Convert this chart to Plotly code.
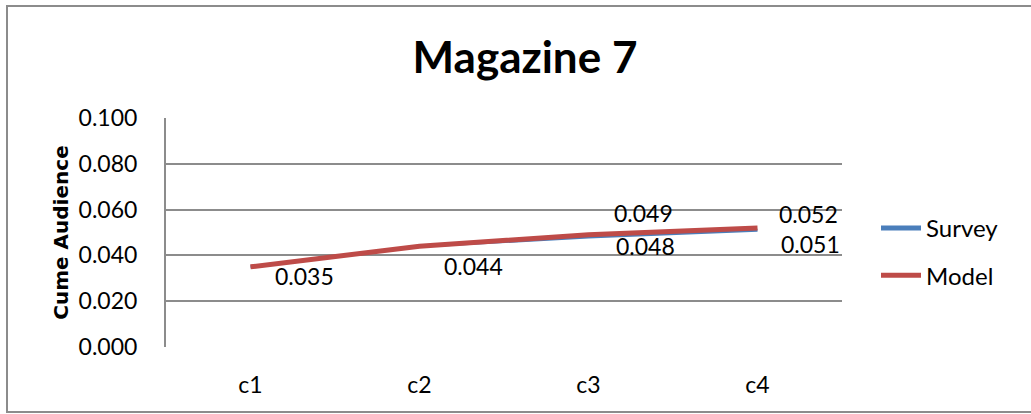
import plotly.graph_objects as go

# Cumulative audience by contact wave
categories = ["c1", "c2", "c3", "c4"]
survey = [0.035, 0.044, 0.048, 0.051]
model = [0.035, 0.044, 0.049, 0.052]
y_ticks = [0.000, 0.020, 0.040, 0.060, 0.080, 0.100]

BLUE = "#4A7EBB"
RED = "#BE4B48"
GRID = "#8C8C8C"
FONT = "Lato, Carlito, Calibri, sans-serif"

# Plot-area geometry in pixels
W, H = 1031, 414
L, R, T, B = 166, 189, 118, 67

fig = go.Figure()
fig.add_trace(go.Scatter(x=categories, y=survey, name="Survey", mode="lines",
                         showlegend=False, line=dict(color=BLUE, width=3)))
fig.add_trace(go.Scatter(x=categories, y=model, name="Model", mode="lines",
                         showlegend=False, line=dict(color=RED, width=5)))

# Legend keys drawn with a uniform thick stroke
for name, color, grp in [("Survey", BLUE, "s"), ("Model", RED, "m")]:
    fig.add_trace(go.Scatter(x=[None], y=[None], name=name, mode="lines",
                             legendgroup=grp, line=dict(color=color, width=5)))

# Value labels: survey below-right, model above-right where the two differ
label_specs = []
survey_shift = [(54, -9), (54, -20), (57, -9), (53, -14)]
for i, v in enumerate(survey):
    label_specs.append((categories[i], v, survey_shift[i]))
model_shift = {2: (55, 22), 3: (51, 14)}
for i, v in enumerate(model):
    if i in model_shift:
        label_specs.append((categories[i], v, model_shift[i]))

for x, v, (dx, dy) in label_specs:
    fig.add_annotation(x=x, y=v, text=f"{v:.3f}", showarrow=False,
                       xshift=dx, yshift=dy,
                       font=dict(family=FONT, size=23, color="#000000"))

# Outer chart border
px = lambda p: (p - L) / (W - L - R)
py = lambda p: 1 - (p - T) / (H - T - B)
fig.add_shape(type="rect", xref="paper", yref="paper",
              x0=px(7), x1=px(1040), y0=py(412), y1=py(6),
              line=dict(color="#8C8C8C", width=2), layer="below")

fig.update_layout(
    width=W, height=H,
    margin=dict(l=L, r=R, t=T, b=B),
    paper_bgcolor="white", plot_bgcolor="white",
    title=dict(text="<b>Magazine 7</b>", x=525 / W, xanchor="center",
               y=1 - 58 / H, yanchor="middle",
               font=dict(family=FONT, size=44, color="#000000")),
    font=dict(family=FONT, color="#000000"),
    legend=dict(x=px(876), y=py(206), xanchor="left", yanchor="top",
                font=dict(family=FONT, size=24), tracegroupgap=13,
                itemwidth=40, bgcolor="rgba(0,0,0,0)"),
    xaxis=dict(type="category", range=[-0.5, 3.5], showgrid=False,
               zeroline=False, showline=False, ticks="",
               ticklabelstandoff=22,
               tickfont=dict(family=FONT, size=23)),
    yaxis=dict(range=[0, 0.1], tickvals=y_ticks, tickformat=".3f",
               showgrid=True, gridcolor=GRID, gridwidth=2,
               zeroline=False, showline=True, linecolor=GRID, linewidth=2,
               ticks="", ticklabelstandoff=22,
               tickfont=dict(family=FONT, size=23),
               title=dict(text="<b>Cume Audience</b>", standoff=5,
                          font=dict(family="DejaVu Sans", size=20))),
)

fig.write_html("out.html")
